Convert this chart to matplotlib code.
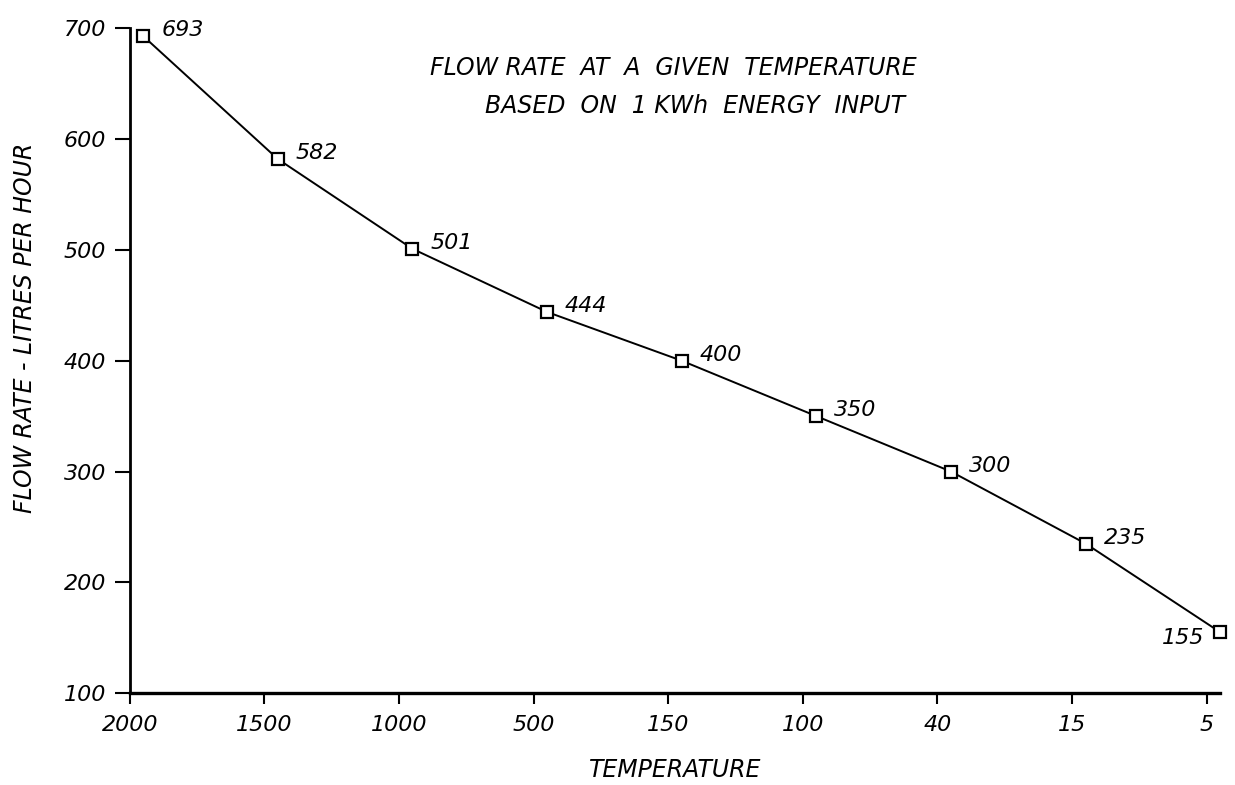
import matplotlib
matplotlib.use("Agg")
import matplotlib.pyplot as plt

# temperatures (categorical, equally spaced on the drawing) and flow rates
temperatures = ["2000", "1500", "1000", "500", "150", "100", "40", "15", "5"]
flow_rates = [693, 582, 501, 444, 400, 350, 300, 235, 155]
y_ticks = [100, 200, 300, 400, 500, 600, 700]

plt.rcParams["font.family"] = ["DejaVu Sans"]
plt.rcParams["font.style"] = "oblique"

fig = plt.figure(figsize=(12.35, 7.85), dpi=100)
ax = fig.add_axes([0.105, 0.117, 0.883, 0.847])

xs = [i + 0.1 for i in range(len(temperatures))]
ax.plot(xs, flow_rates, "-", color="black", lw=1.4, marker="s", ms=9,
        mfc="white", mec="black", mew=1.6, clip_on=False)

for i, (x, v) in enumerate(zip(xs, flow_rates)):
    if i == len(flow_rates) - 1:
        off, ha = (-16, -6), "right"
    else:
        off, ha = (18, 6), "left"
    ax.annotate(str(v), (x, v), textcoords="offset pixels", xytext=off,
                ha=ha, va="center", fontsize=16, style="oblique")

ax.set_xlim(0, 8.1)
ax.set_ylim(100, 700)
ax.set_xticks(range(len(temperatures)))
ax.set_xticklabels(temperatures)
ax.set_yticks(y_ticks)
ax.tick_params(axis="both", labelsize=16, width=1.5, color="black")
ax.tick_params(axis="x", length=8, direction="out", pad=8)
ax.tick_params(axis="y", length=11, direction="out", pad=6)
for lab in ax.get_xticklabels() + ax.get_yticklabels():
    lab.set_style("oblique")

ax.spines[["top", "right"]].set_visible(False)
ax.spines["left"].set_linewidth(2.0)
ax.spines["bottom"].set_linewidth(2.4)

ax.set_xlabel("TEMPERATURE", fontsize=17, style="oblique", labelpad=16)
ax.set_ylabel("FLOW RATE - LITRES PER HOUR", fontsize=17, style="oblique",
              labelpad=12)
ax.yaxis.set_label_coords(-0.085, 0.55)

fig.text(0.545, 0.905, "FLOW RATE  AT  A  GIVEN  TEMPERATURE", ha="center",
         fontsize=17, style="oblique")
fig.text(0.563, 0.856, "BASED  ON  1 KWh  ENERGY  INPUT", ha="center",
         fontsize=17, style="oblique")

fig.savefig("out.png", dpi=100)
